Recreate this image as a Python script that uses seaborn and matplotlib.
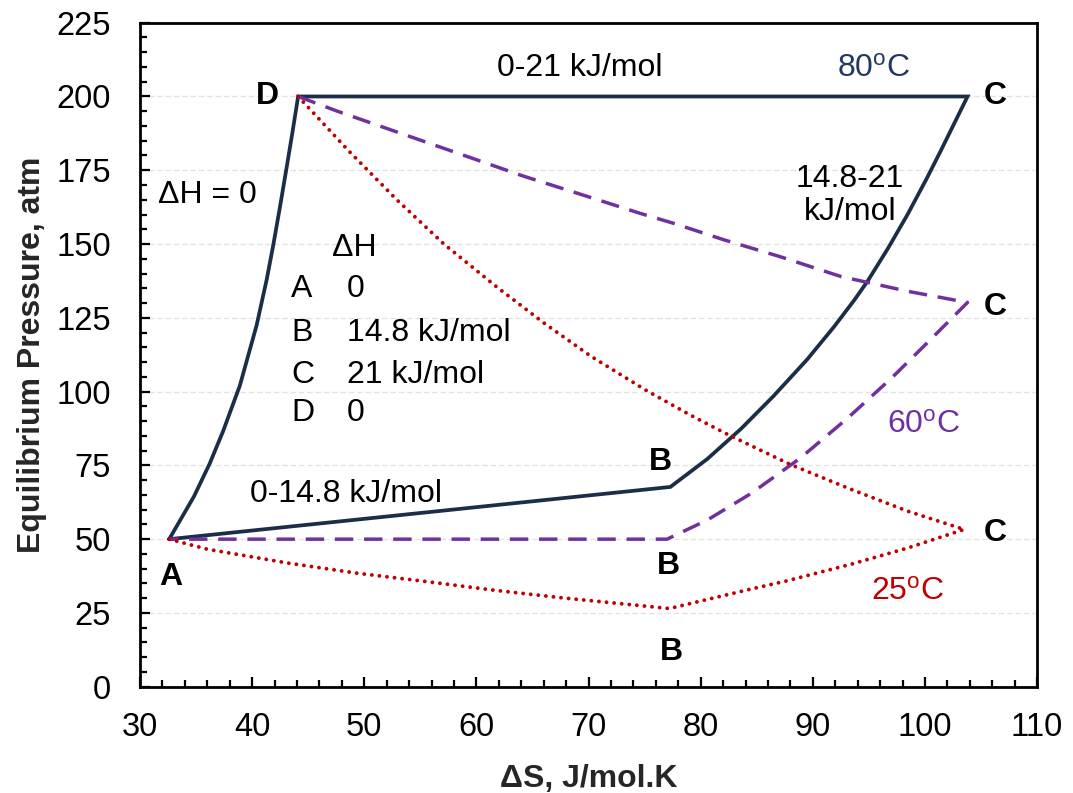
import numpy as np
import pandas as pd
import matplotlib
matplotlib.use("Agg")
import matplotlib.pyplot as plt
from matplotlib.ticker import MultipleLocator
import seaborn as sns

# ---------------- data ----------------
# 80 C cycle: A -> D (dH = 0) -> C (0-21 kJ/mol) -> B (14.8-21) -> A (0-14.8)
s80_x = [32.6, 34.8, 36.2, 37.4, 38.9, 40.4, 41.3, 41.9, 42.5, 43.1, 43.6, 44.1,
         103.8, 101.4, 100.2, 98.45, 96.7, 94.9, 93.7, 91.9, 89.5, 86.5, 83.6, 80.6, 77.3,
         32.6]
s80_y = [50, 64.4, 75.5, 86.5, 102.0, 122.5, 138.0, 150.0, 163.0, 176.5, 188.0, 200,
         200, 181.5, 172.5, 160.0, 148.5, 137.5, 131.0, 122.0, 110.9, 98.5, 87.4, 77.2, 67.7,
         50]

# 60 C cycle: D -> C -> B -> A
s60_x = [44.1, 47.6, 55.3, 64.2, 70.0, 74.6, 77.6, 82.1, 87.1, 92.5, 98.45, 103.8,
         100.2, 97.0, 93.1, 88.9, 84.5, 80.6, 77.0, 32.6]
s60_y = [200, 195.0, 184.8, 173.0, 166.0, 160.4, 157.0, 151.4, 145.7, 139.0, 134.0, 130.2,
         116.5, 104.5, 91.0, 77.5, 65.5, 56.5, 50.0, 50.0]

# 25 C cycle: D -> C -> B -> A
s25_x = [44.1, 48.75, 52.9, 57.1, 61.8, 66.0, 70.2, 75.1, 79.1, 82.4, 88.0, 93.4, 98.45, 103.5,
         98.45, 93.5, 87.6, 84.6, 77.2,
         73.8, 67.7, 61.6, 55.4, 49.3, 43.2, 36.0, 32.6]
s25_y = [200, 181.0, 165.0, 150.0, 135.5, 123.3, 112.0, 100.5, 92.0, 85.5, 75.3, 66.9, 59.5, 53.3,
         47.0, 41.6, 35.8, 33.2, 26.5,
         27.8, 30.1, 32.7, 35.7, 38.5, 41.9, 46.6, 50.0]

x_ticks = [30, 40, 50, 60, 70, 80, 90, 100, 110]
y_ticks = [0, 25, 50, 75, 100, 125, 150, 175, 200, 225]

table_rows = ["A", "B", "C", "D"]
table_vals = ["0", "14.8 kJ/mol", "21 kJ/mol", "0"]

NAVY = "#1B2E47"
NAVY_TXT = "#1F3864"
PURPLE = "#7030A0"
RED = "#C00000"

# ---------------- style ----------------
sns.set_theme(style="white")
plt.rcParams["font.family"] = ["Liberation Sans", "DejaVu Sans"]
plt.rcParams["mathtext.fontset"] = "custom"
plt.rcParams["mathtext.rm"] = "Liberation Sans"
plt.rcParams["mathtext.it"] = "Liberation Sans:italic"
plt.rcParams["mathtext.bf"] = "Liberation Sans:bold"

FS = 23
TFS = 23.5

fig = plt.figure(figsize=(10.73, 7.93), dpi=100)
ax = fig.add_axes([0.1305, 0.134, 0.836, 0.8374])

sns.lineplot(x=s80_x, y=s80_y, sort=False, estimator=None, color=NAVY, lw=2.7, ax=ax)
ax.lines[-1].set_solid_joinstyle("miter")
sns.lineplot(x=s60_x, y=s60_y, sort=False, estimator=None, color=PURPLE, lw=2.5,
             ax=ax, dashes=False)
ax.lines[-1].set_linestyle((0, (5.3, 3.1)))
sns.lineplot(x=s25_x, y=s25_y, sort=False, estimator=None, color=RED, lw=2.8,
             ax=ax, dashes=False)
ax.lines[-1].set_linestyle((0, (0.01, 1.95)))
ax.lines[-1].set_dash_capstyle("round")

ax.set_xlim(30, 110)
ax.set_ylim(0, 225)
ax.set_xticks(x_ticks)
ax.set_yticks(y_ticks)
ax.xaxis.set_minor_locator(MultipleLocator(2))
ax.yaxis.set_minor_locator(MultipleLocator(5))
ax.tick_params(which="both", direction="in", colors="black", width=1.6)
ax.tick_params(which="major", length=7.5, labelsize=TFS)
ax.tick_params(which="minor", length=5)
ax.tick_params(axis="y", which="major", pad=21)
ax.tick_params(axis="x", which="major", pad=18)
ax.tick_params(bottom=True, left=True, which="both")
for s in ax.spines.values():
    s.set_color("black")
    s.set_linewidth(2.0)
ax.yaxis.grid(True, which="major", color="#E3E3E3", lw=1.0, ls=(0, (4, 2)))
ax.xaxis.grid(False)
ax.set_axisbelow(True)

ax.set_xlabel("\u0394S, J/mol.K", fontsize=FS, fontweight="bold", labelpad=15)
ax.set_ylabel("Equilibrium Pressure, atm", fontsize=FS, fontweight="bold", labelpad=7)

# ---------------- annotations ----------------
def t(x, y, s, **kw):
    d = dict(fontsize=FS, ha="center", va="center", color="black")
    d.update(kw)
    ax.text(x, y, s, **d)

t(41.4, 200, "D", fontweight="bold")
t(106.3, 200, "C", fontweight="bold")
t(106.3, 128.7, "C", fontweight="bold")
t(106.3, 52.0, "C", fontweight="bold")
t(32.7, 37.2, "A", fontweight="bold")
t(76.4, 76.1, "B", fontweight="bold")
t(77.1, 40.9, "B", fontweight="bold")
t(77.4, 11.7, "B", fontweight="bold")

t(69.2, 209.7, "0-21 kJ/mol")
t(95.4, 209.2, r"80$^{\mathregular{o}}$C", color=NAVY_TXT)
t(93.3, 166.4, "14.8-21\nkJ/mol", linespacing=1.15)
t(36.0, 166.6, "\u0394H = 0")
t(49.1, 148.8, "\u0394H")
for r, (lab, val) in enumerate(zip(table_rows, table_vals)):
    yy = [134.6, 119.9, 105.6, 92.7][r]
    t(43.5, yy, lab, ha="left")
    t(48.45, yy, val, ha="left")
t(48.4, 65.3, "0-14.8 kJ/mol")
t(99.9, 88.8, r"60$^{\mathregular{o}}$C", color=PURPLE)
t(98.45, 32.2, r"25$^{\mathregular{o}}$C", color=RED)

fig.savefig("out.png", dpi=100)
